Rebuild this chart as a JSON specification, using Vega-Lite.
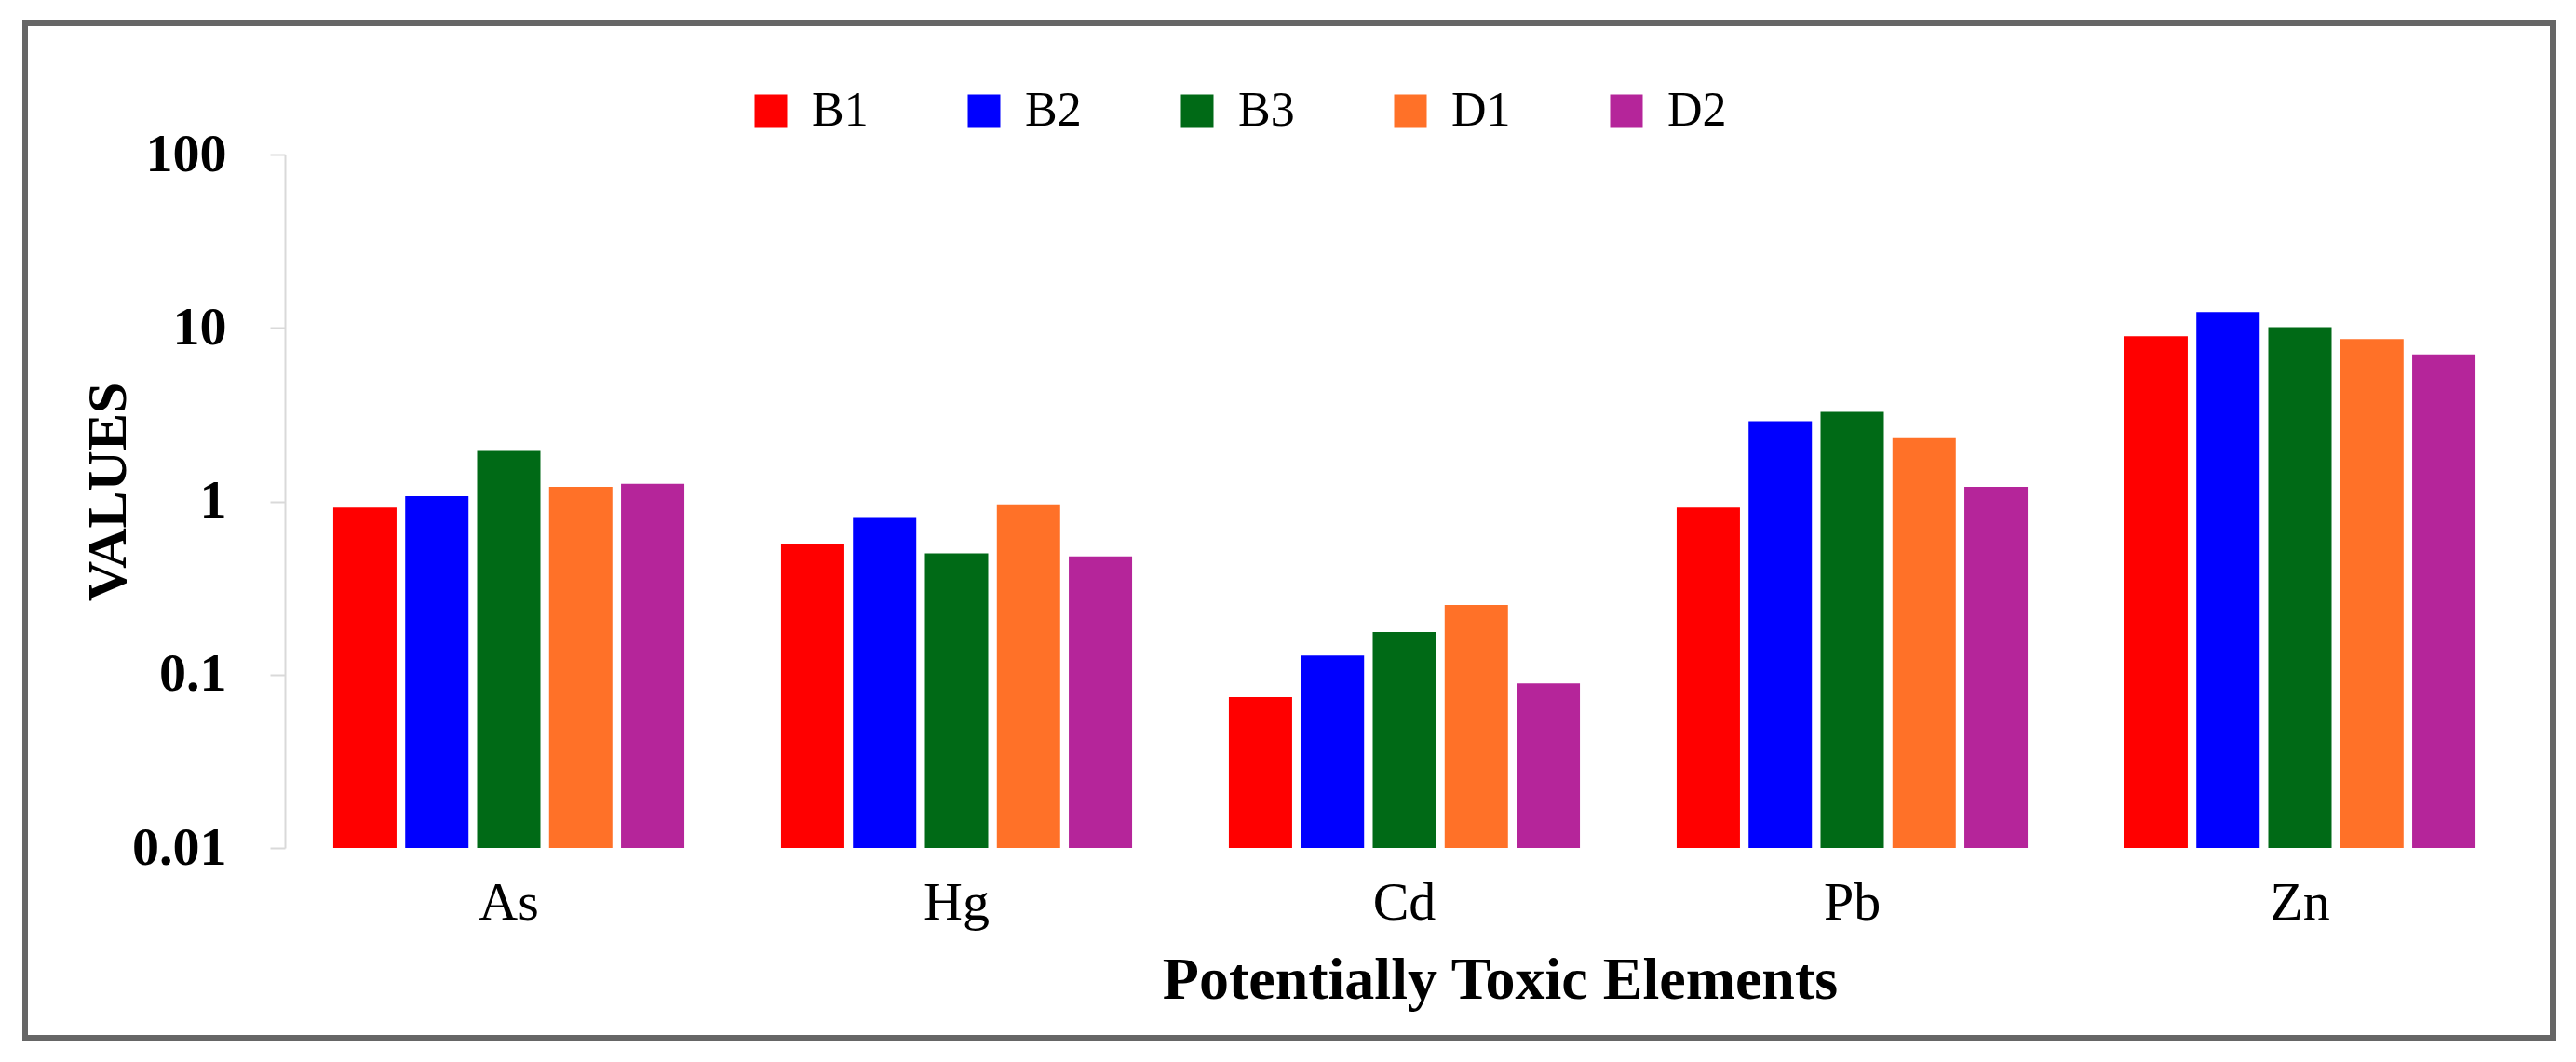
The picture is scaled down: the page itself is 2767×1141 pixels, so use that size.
{
  "$schema": "https://vega.github.io/schema/vega-lite/v6.json",
  "autosize": "none",
  "padding": {"left": 27, "top": 25, "right": 25, "bottom": 26},
  "width": 2715,
  "height": 1090,
  "background": "white",
  "data": {
    "values": [
      {"element": "As", "site": "B1", "value": 0.92},
      {"element": "As", "site": "B2", "value": 1.07},
      {"element": "As", "site": "B3", "value": 1.95},
      {"element": "As", "site": "D1", "value": 1.21},
      {"element": "As", "site": "D2", "value": 1.26},
      {"element": "Hg", "site": "B1", "value": 0.565},
      {"element": "Hg", "site": "B2", "value": 0.81},
      {"element": "Hg", "site": "B3", "value": 0.5},
      {"element": "Hg", "site": "D1", "value": 0.95},
      {"element": "Hg", "site": "D2", "value": 0.48},
      {"element": "Cd", "site": "B1", "value": 0.074},
      {"element": "Cd", "site": "B2", "value": 0.129},
      {"element": "Cd", "site": "B3", "value": 0.176},
      {"element": "Cd", "site": "D1", "value": 0.252},
      {"element": "Cd", "site": "D2", "value": 0.089},
      {"element": "Pb", "site": "B1", "value": 0.92},
      {"element": "Pb", "site": "B2", "value": 2.9},
      {"element": "Pb", "site": "B3", "value": 3.28},
      {"element": "Pb", "site": "D1", "value": 2.31},
      {"element": "Pb", "site": "D2", "value": 1.21},
      {"element": "Zn", "site": "B1", "value": 8.94},
      {"element": "Zn", "site": "B2", "value": 12.35},
      {"element": "Zn", "site": "B3", "value": 10.1},
      {"element": "Zn", "site": "D1", "value": 8.61},
      {"element": "Zn", "site": "D2", "value": 7.03}
    ]
  },
  "mark": {"type": "bar"},
  "encoding": {
    "x": {
      "field": "element",
      "type": "nominal",
      "sort": ["As", "Hg", "Cd", "Pb", "Zn"],
      "scale": {"range": [279, 2684], "paddingInner": 0.216, "paddingOuter": 0.108},
      "axis": {
        "orient": "bottom",
        "offset": -204,
        "domain": false,
        "ticks": false,
        "labelAngle": 0,
        "labelPadding": 30,
        "labelFontSize": 58,
        "title": "Potentially Toxic Elements",
        "titleFontSize": 64,
        "titleFontWeight": "bold",
        "titleX": 1584,
        "titleY": 161,
        "titleAlign": "center",
        "titleBaseline": "alphabetic"
      }
    },
    "xOffset": {
      "field": "site",
      "type": "nominal",
      "scale": {"paddingInner": 0.12, "paddingOuter": 0}
    },
    "y": {
      "field": "value",
      "type": "quantitative",
      "scale": {"type": "log", "domain": [0.01, 100], "nice": false, "range": [886, 141]},
      "axis": {
        "orient": "left",
        "offset": -279,
        "values": [0.01, 0.1, 1, 10, 100],
        "format": "~g",
        "grid": false,
        "domainColor": "#d9d9d9",
        "domainWidth": 2,
        "tickColor": "#d9d9d9",
        "tickWidth": 2,
        "tickSize": 16,
        "labelPadding": 47,
        "labelFontSize": 58,
        "labelFontWeight": "bold",
        "title": "VALUES",
        "titleFontSize": 60,
        "titleFontWeight": "bold",
        "titleAngle": 270,
        "titleX": -172,
        "titleY": 503,
        "titleAlign": "center",
        "titleBaseline": "alphabetic"
      }
    },
    "y2": {"datum": 0.01},
    "color": {
      "field": "site",
      "type": "nominal",
      "scale": {
        "domain": ["B1", "B2", "B3", "D1", "D2"],
        "range": ["#ff0000", "#0000ff", "#006a16", "#ff7128", "#b5259a"]
      },
      "legend": {
        "title": null,
        "orient": "none",
        "legendX": 775,
        "legendY": 68,
        "direction": "horizontal",
        "columns": 5,
        "symbolType": "square",
        "symbolSize": 1225,
        "symbolStrokeWidth": 0,
        "labelFont": "Liberation Serif",
        "labelFontSize": 52,
        "labelOffset": 18,
        "columnPadding": 98
      }
    }
  },
  "config": {
    "font": "Liberation Serif",
    "view": {"stroke": "#666666", "strokeWidth": 6, "fill": "white"},
    "axis": {"labelColor": "black", "titleColor": "black", "labelFont": "Liberation Serif", "titleFont": "Liberation Serif"},
    "legend": {"labelColor": "black", "labelFont": "Liberation Serif"}
  }
}
